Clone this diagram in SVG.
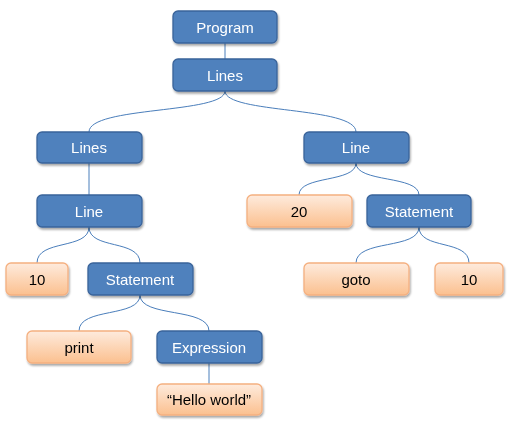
<svg xmlns="http://www.w3.org/2000/svg" width="515" height="425" viewBox="0 0 515 425">
<defs>
<linearGradient id="og" x1="0" y1="0" x2="0" y2="1">
<stop offset="0" stop-color="#FEEBDD"/>
<stop offset="1" stop-color="#FBC08F"/>
</linearGradient>
<filter id="sh" x="-10%" y="-20%" width="130%" height="160%">
<feGaussianBlur in="SourceAlpha" stdDeviation="1.2"/>
<feOffset dx="1" dy="2" result="b"/>
<feComponentTransfer><feFuncA type="linear" slope="0.35"/></feComponentTransfer>
<feMerge><feMergeNode/><feMergeNode in="SourceGraphic"/></feMerge>
</filter>
</defs>
<style>
.b{fill:#4F81BD;stroke:#3A649A;stroke-width:1.3}
.o{fill:url(#og);stroke:#F5B080;stroke-width:1.3}
.tb{fill:#FFFFFF;font-family:"Liberation Sans",Arial,sans-serif;font-size:15px;text-anchor:middle}
.to{fill:#000000;font-family:"Liberation Sans",Arial,sans-serif;font-size:15px;text-anchor:middle}
.c{fill:none;stroke:#4A7EBB;stroke-width:1}
</style>
<rect width="515" height="425" fill="#FFFFFF"/>
<g id="connectors">
<path class="c" d="M225,43 L225,59"/>
<path class="c" d="M225,91 C225,114 89,106 89,132"/>
<path class="c" d="M225,91 C225,114 356,106 356,132"/>
<path class="c" d="M89,163 L89,195"/>
<path class="c" d="M356,163 C356,183 299,175 299,195"/>
<path class="c" d="M356,163 C356,183 419,175 419,195"/>
<path class="c" d="M89,227 C89,250 37,239 37,263"/>
<path class="c" d="M89,227 C89,250 140,239 140,263"/>
<path class="c" d="M419,227 C419,250 356,239 356,263"/>
<path class="c" d="M419,227 C419,250 469,239 469,263"/>
<path class="c" d="M140,295 C140,318 79,307 79,331"/>
<path class="c" d="M140,295 C140,318 209,307 209,331"/>
<path class="c" d="M209,363 L209,384"/>
</g>
<g id="program" filter="url(#sh)"><rect class="b" x="173" y="11" width="104" height="32" rx="5"/><text class="tb" x="225" y="32.5">Program</text></g>
<g id="lines_top" filter="url(#sh)"><rect class="b" x="173" y="59" width="104" height="32" rx="5"/><text class="tb" x="225" y="80.5">Lines</text></g>
<g id="lines_left" filter="url(#sh)"><rect class="b" x="37" y="132" width="105" height="31" rx="5"/><text class="tb" x="89" y="153">Lines</text></g>
<g id="line_right" filter="url(#sh)"><rect class="b" x="304" y="132" width="105" height="31" rx="5"/><text class="tb" x="356" y="153">Line</text></g>
<g id="line_left" filter="url(#sh)"><rect class="b" x="37" y="195" width="105" height="32" rx="5"/><text class="tb" x="89" y="216.5">Line</text></g>
<g id="n20" filter="url(#sh)"><rect class="o" x="247" y="195" width="105" height="32" rx="5"/><text class="to" x="299" y="216.5">20</text></g>
<g id="statement_right" filter="url(#sh)"><rect class="b" x="367" y="195" width="104" height="32" rx="5"/><text class="tb" x="419" y="216.5">Statement</text></g>
<g id="n10_left" filter="url(#sh)"><rect class="o" x="6" y="263" width="62" height="32" rx="5"/><text class="to" x="37" y="284.5">10</text></g>
<g id="statement_left" filter="url(#sh)"><rect class="b" x="88" y="263" width="105" height="32" rx="5"/><text class="tb" x="140" y="284.5">Statement</text></g>
<g id="goto" filter="url(#sh)"><rect class="o" x="304" y="263" width="105" height="32" rx="5"/><text class="to" x="356" y="284.5">goto</text></g>
<g id="n10_right" filter="url(#sh)"><rect class="o" x="435" y="263" width="68" height="32" rx="5"/><text class="to" x="469" y="284.5">10</text></g>
<g id="print" filter="url(#sh)"><rect class="o" x="27" y="331" width="104" height="32" rx="5"/><text class="to" x="79" y="352.5">print</text></g>
<g id="expression" filter="url(#sh)"><rect class="b" x="157" y="331" width="105" height="32" rx="5"/><text class="tb" x="209" y="352.5">Expression</text></g>
<g id="hello" filter="url(#sh)"><rect class="o" x="157" y="384" width="105" height="31" rx="5"/><text class="to" x="209" y="404.5" font-size="13.5">“Hello world”</text></g>
</svg>
